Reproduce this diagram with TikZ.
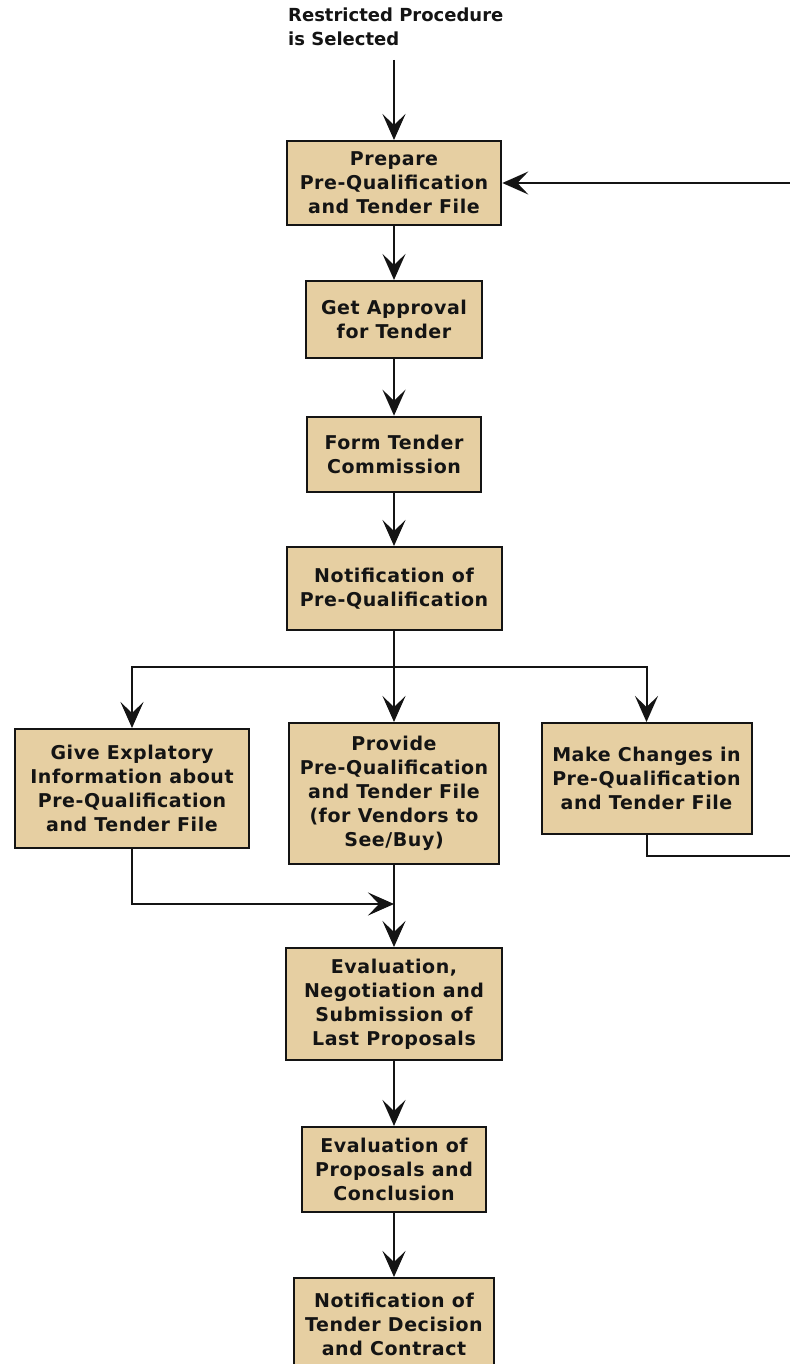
\documentclass[tikz,border=0pt]{standalone}
\usepackage{fontspec}
\setmainfont{DejaVu Sans}
\newfontfamily\boxfont{DejaVu Sans}[LetterSpace=3]
\usetikzlibrary{arrows.meta}
\definecolor{boxfill}{RGB}{230,207,162}
\definecolor{linecol}{RGB}{20,20,20}
\begin{document}
\begin{tikzpicture}[x=1pt,y=-1pt,
  >={Stealth[length=26pt,width=23pt,inset=11pt]},
  box/.style={draw=linecol, line width=2pt, fill=boxfill, inner sep=0pt, align=center, text=linecol, font=\boxfont\fontsize{19}{24}\selectfont\bfseries},
  flow/.style={draw=linecol, line width=2pt, ->},
  link/.style={draw=linecol, line width=2pt}]
\useasboundingbox (0,0) rectangle (789,1364);
\fill[white] (0,0) rectangle (789,1364);
\node[anchor=north west, inner sep=0pt, align=left, text=linecol, font=\fontsize{18}{24}\selectfont\bfseries] (title) at (288,8) {Restricted Procedure\\is Selected};
\coordinate (start) at (394,60);
\node[box, minimum width=214.7pt, minimum height=84pt] (b1) at (394,183) {Prepare\\Pre-Qualification\\and Tender File};
\node[box, minimum width=175.3pt, minimum height=76.7pt] (b2) at (394,319.3) {Get Approval\\for Tender};
\node[box, minimum width=174.3pt, minimum height=75pt] (b3) at (394,454.2) {Form Tender\\Commission};
\node[box, minimum width=215pt, minimum height=83pt] (b4) at (394,588.5) {Notification of\\Pre-Qualification};
\node[box, minimum width=234.4pt, minimum height=119pt] (b5) at (132,788.5) {Give Explatory\\Information about\\Pre-Qualification\\and Tender File};
\node[box, minimum width=210.7pt, minimum height=141pt] (b6) at (394,793.5) {Provide\\Pre-Qualification\\and Tender File\\(for Vendors to\\See/Buy)};
\node[box, minimum width=210pt, minimum height=111pt] (b7) at (646.5,778.5) {Make Changes in\\Pre-Qualification\\and Tender File};
\node[box, minimum width=216.7pt, minimum height=112pt] (b8) at (394,1004) {Evaluation,\\Negotiation and\\Submission of\\Last Proposals};
\node[box, minimum width=184pt, minimum height=85.5pt] (b9) at (394,1169.7) {Evaluation of\\Proposals and\\Conclusion};
\node[box, minimum width=200.3pt, minimum height=92pt] (b10) at (394,1324) {Notification of\\Tender Decision\\and Contract};
\coordinate (br) at (394,667);
\coordinate (j) at (394,904);
\coordinate (r1) at (792,855.5);
\coordinate (r2) at (792,183);
\draw[flow] (start) -- (b1.north);
\draw[flow] (b1.south) -- (b2.north);
\draw[flow] (b2.south) -- (b3.north);
\draw[flow] (b3.south) -- (b4.north);
\draw[flow] (b4.south) -- (b6.north);
\draw[flow] (br) -| (b5.north);
\draw[flow] (br) -| (b7.north);
\draw[flow] (b5.south) |- (j);
\draw[flow] (b6.south) -- (b8.north);
\draw[flow] (b8.south) -- (b9.north);
\draw[flow] (b9.south) -- (b10.north);
\draw[flow] (b7.south) |- (r1) -- (r2) -- (b1.east);
\end{tikzpicture}
\end{document}
